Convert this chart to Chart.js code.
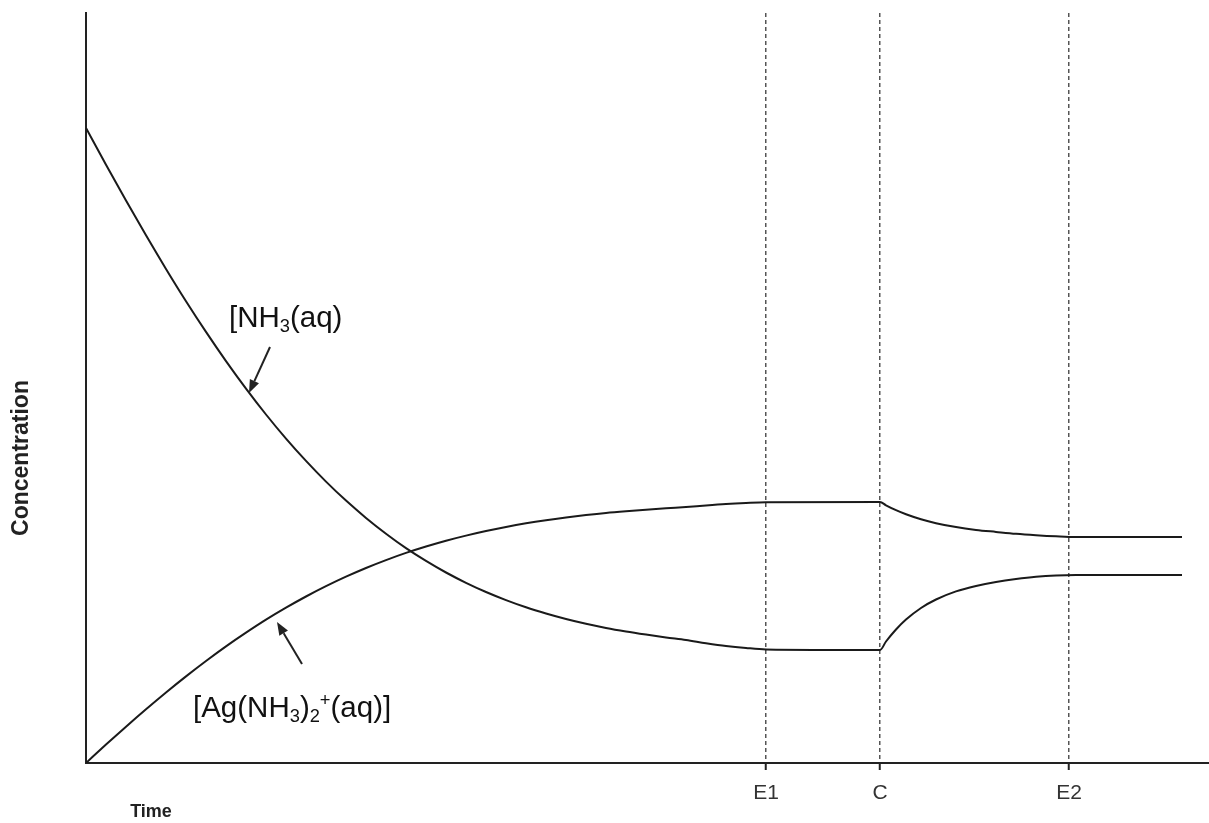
<!DOCTYPE html>
<html>
<head>
<meta charset="utf-8">
<script src="https://cdn.jsdelivr.net/npm/chart.js@4.4.1/dist/chart.umd.min.js"></script>
<style>
html,body{margin:0;padding:0;background:#ffffff;}
#wrap{width:1209px;height:823px;position:relative;}
canvas{display:block;}
</style>
</head>
<body>
<div id="wrap"><canvas id="c" width="1209" height="823"></canvas></div>
<script>
// ---- data (arbitrary units) ----
const times = [0,20,40,60,80,100,120,140,160,180,200,220,240,260,280,300,320,340,360,380,400,420,440,460,480,500,520,540,560,580,600,620,640,660,680,
               794,800,810,820,835,850,870,890,910,930,950,970,990,1096];
const nh3 = [635,598.3,562.5,527.7,494.1,461.8,431.1,401.9,374.4,348.5,324.4,302.1,281.4,262.4,245.1,229.3,214.9,202.1,190.5,180.2,171.0,162.9,155.7,149.5,144.0,139.2,135.1,131.6,128.5,125.6,123.0,119.8,117.0,115.0,113.6,
             113,121.5,133.5,143.4,155.0,163.5,171.6,177.0,181.0,184.0,186.3,187.6,188,188];
const agComplex = [0,18.4,36.3,53.7,70.5,86.6,102.0,116.6,130.3,143.3,155.3,166.5,176.8,186.3,195.0,202.9,210.1,216.5,222.3,227.4,232.0,236.1,239.7,242.8,245.5,247.9,250.0,251.7,253.2,254.7,256.0,257.6,259.0,260.0,260.7,
                   261,257.7,252.8,248.7,243.7,239.8,235.9,233.1,231.1,229.2,227.8,226.7,226,226];
const xTickValues = [680, 794, 983];
const xTickLabels = ['E1', 'C', 'E2'];
const xMax = 1123;
const yMax = 750;
const axisTitleX = 'Time';
const axisTitleY = 'Concentration';

const FONT = "'Liberation Sans', Arial, Helvetica, sans-serif";

function drawRich(ctx, parts, x, y, size) {
  let cx = x;
  ctx.textBaseline = 'alphabetic';
  ctx.textAlign = 'left';
  for (const p of parts) {
    let s = size, dy = 0;
    if (p.sub) { s = size * 0.62; dy = size * 0.16; }
    if (p.sup) { s = size * 0.62; dy = -size * 0.36; }
    ctx.font = s + 'px ' + FONT;
    ctx.fillText(p.t, cx, y + dy);
    cx += ctx.measureText(p.t).width;
  }
}

function drawArrow(ctx, x1, y1, x2, y2) {
  const ang = Math.atan2(y2 - y1, x2 - x1);
  const hl = 13, hw = 5;
  const bx = x2 - hl * Math.cos(ang), by = y2 - hl * Math.sin(ang);
  ctx.beginPath();
  ctx.moveTo(x1, y1);
  ctx.lineTo(bx, by);
  ctx.lineWidth = 2;
  ctx.strokeStyle = '#222';
  ctx.stroke();
  ctx.beginPath();
  ctx.moveTo(x2, y2);
  ctx.lineTo(bx + hw * Math.sin(ang), by - hw * Math.cos(ang));
  ctx.lineTo(bx - hw * Math.sin(ang), by + hw * Math.cos(ang));
  ctx.closePath();
  ctx.fillStyle = '#222';
  ctx.fill();
}

const annotations = {
  id: 'annotations',
  afterDraw(chart) {
    const ctx = chart.ctx;
    const xs = chart.scales.x, ys = chart.scales.y;
    const X = v => xs.getPixelForValue(v), Y = v => ys.getPixelForValue(v);
    const area = chart.chartArea;
    ctx.save();
    ctx.fillStyle = '#111';
    // series labels
    drawRich(ctx, [{t:'[NH'}, {t:'3', sub:true}, {t:'(aq)'}], X(143), Y(436), 29.5);
    drawRich(ctx, [{t:'[Ag(NH'}, {t:'3', sub:true}, {t:')'}, {t:'2', sub:true}, {t:'+', sup:true}, {t:'(aq)]'}], X(107), Y(46), 29.5);
    // arrows
    drawArrow(ctx, X(184), Y(416), X(163), Y(370));
    drawArrow(ctx, X(216), Y(99), X(191), Y(141));
    // axis titles
    ctx.fillStyle = '#222';
    ctx.font = 'bold 18px ' + FONT;
    ctx.textAlign = 'center';
    ctx.textBaseline = 'middle';
    ctx.fillText(axisTitleX, area.left + 65, area.bottom + 49);
    ctx.save();
    ctx.translate(area.left - 64, area.top + 445);
    ctx.rotate(-Math.PI / 2);
    ctx.font = 'bold 23px ' + FONT;
    ctx.fillText(axisTitleY, 0, 0);
    ctx.restore();
    ctx.restore();
  }
};

const lineStyle = {
  borderColor: '#1a1a1a',
  borderWidth: 2,
  pointRadius: 0,
  fill: false,
  cubicInterpolationMode: 'monotone'
};

new Chart(document.getElementById('c'), {
  type: 'line',
  data: {
    datasets: [
      Object.assign({ label: 'NH3(aq)', data: times.map((t, i) => ({x: t, y: nh3[i]})) }, lineStyle),
      Object.assign({ label: 'Ag(NH3)2+(aq)', data: times.map((t, i) => ({x: t, y: agComplex[i]})) }, lineStyle)
    ]
  },
  options: {
    responsive: false,
    animation: false,
    devicePixelRatio: 1,
    layout: { padding: { left: 86, top: 13, right: 0, bottom: 0 } },
    plugins: { legend: { display: false }, tooltip: { enabled: false } },
    scales: {
      x: {
        type: 'linear',
        min: 0,
        max: xMax,
        afterBuildTicks: (scale) => { scale.ticks = xTickValues.map(v => ({ value: v })); },
        afterFit: (scale) => { scale.height = 60; },
        ticks: {
          autoSkip: false,
          maxRotation: 0,
          minRotation: 0,
          padding: 11,
          color: '#333',
          font: { family: FONT, size: 21 },
          callback: (value) => xTickLabels[xTickValues.indexOf(value)]
        },
        grid: {
          display: true,
          drawOnChartArea: true,
          drawTicks: true,
          color: '#555',
          lineWidth: 1.5,
          tickLength: 7,
          tickColor: '#222',
          tickWidth: 2
        },
        border: { display: true, color: '#222', width: 2, dash: [4, 3] }
      },
      y: {
        type: 'linear',
        min: 0,
        max: yMax,
        afterFit: (scale) => { scale.width = 0; },
        ticks: { display: false },
        grid: { display: false, drawTicks: false },
        border: { display: true, color: '#222', width: 2 }
      }
    }
  },
  plugins: [annotations]
});
</script>
</body>
</html>
